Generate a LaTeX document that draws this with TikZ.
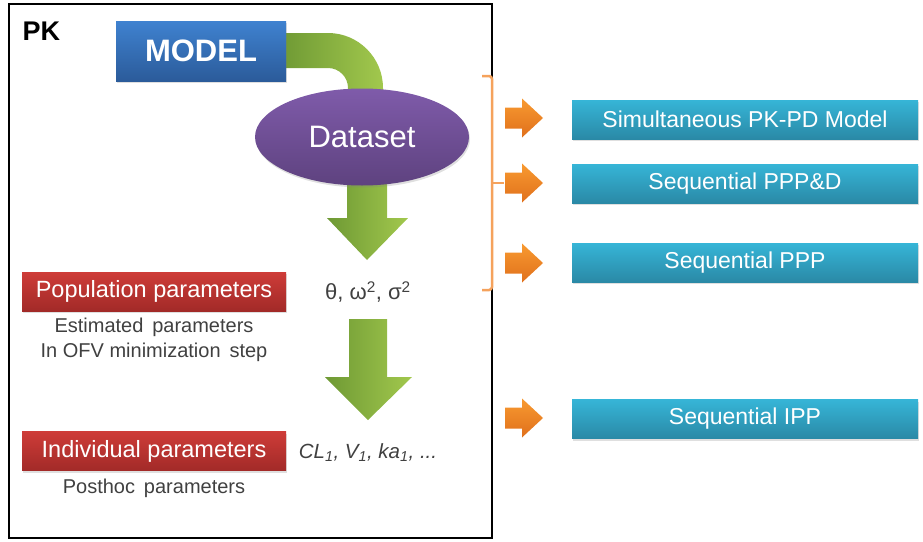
\documentclass[tikz,border=0pt]{standalone}
\usepackage{fontspec}
\setmainfont{Liberation Sans}
\usetikzlibrary{shapes.geometric,shadows}

\definecolor{modeltop}{HTML}{3F82D0}
\definecolor{modelbot}{HTML}{2B5B9A}
\definecolor{datatop}{HTML}{7F5BAA}
\definecolor{databot}{HTML}{5E427F}
\definecolor{partop}{HTML}{CE3C38}
\definecolor{parbot}{HTML}{A22A28}
\definecolor{apptop}{HTML}{36B5D7}
\definecolor{appbot}{HTML}{2A89A6}
\definecolor{greenl}{HTML}{6E9934}
\definecolor{greenr}{HTML}{A2C84D}
\definecolor{orangetop}{HTML}{F89A30}
\definecolor{orangebot}{HTML}{E0701C}
\definecolor{bracketc}{HTML}{F5A25C}
\definecolor{notegray}{HTML}{404040}

\tikzstyle{box}=[rectangle, inner sep=0pt, text=white, drop shadow={shadow xshift=1pt, shadow yshift=-2pt, opacity=0.25}]
\tikzstyle{modelbox}=[box, minimum width=170pt, minimum height=60pt, top color=modeltop, bottom color=modelbot, font=\fontsize{31}{36}\selectfont\bfseries]
\tikzstyle{databox}=[ellipse, inner sep=0pt, minimum width=214pt, minimum height=97pt, top color=datatop, bottom color=databot, text=white, font=\fontsize{31}{36}\selectfont, drop shadow={shadow xshift=1pt, shadow yshift=-2pt, opacity=0.25}]
\tikzstyle{parbox}=[box, minimum width=264pt, minimum height=39pt, top color=partop, bottom color=parbot, font=\fontsize{23.5}{27}\selectfont]
\tikzstyle{approach}=[box, minimum width=346pt, minimum height=39pt, top color=apptop, bottom color=appbot, font=\fontsize{23}{27}\selectfont]
\tikzstyle{note}=[text=notegray, font=\fontsize{20}{25}\selectfont, align=center]
\tikzstyle{values}=[text=notegray, font=\fontsize{22}{25}\selectfont]
\tikzstyle{greenarrow}=[left color=greenl, right color=greenr]
\tikzstyle{orangearrow}=[top color=orangetop, bottom color=orangebot]
\tikzstyle{bracket}=[draw=bracketc, line width=2.5pt, rounded corners=3pt]

\begin{document}
\begin{tikzpicture}[x=1pt, y=1pt]
            \useasboundingbox (0,0) rectangle (923,-541);
            \draw[line width=2.5pt] (9,-4) rectangle (492,-538);
            \node[anchor=west, font=\fontsize{27}{30}\selectfont\bfseries] at (19,-31) (pk) {PK};
            % curved arrow from the model into the dataset
            \shade[greenarrow] (280,-33) -- (328,-33) arc[start angle=90, end angle=0, radius=55]
                -- (383,-110) -- (348,-110) -- (348,-88) arc[start angle=0, end angle=90, radius=20]
                -- (280,-68) -- cycle;
            \node[modelbox] at (201,-51) (model) {MODEL};
            \shade[greenarrow] (347,-170) -- (387,-170) -- (387,-218) -- (408,-218) -- (367,-260)
                -- (327,-218) -- (347,-218) -- cycle;
            \node[databox] at (362,-137) (data) {Dataset};
            \node[parbox] at (154,-291.5) (pop) {Population parameters};
            \node[values] at (368,-292) (popval) {θ, ω\textsuperscript{2}, σ\textsuperscript{2}};
            \node[note] at (154,-340) (popnote) {Estimated\, parameters\\In OFV minimization\, step};
            \shade[greenarrow] (349,-319) -- (387,-319) -- (387,-377) -- (412,-377) -- (368,-420)
                -- (325,-377) -- (349,-377) -- cycle;
            \node[parbox] at (154,-451) (ind) {Individual parameters};
            \node[values, font=\fontsize{20.5}{25}\selectfont] at (368,-453) (indval) {\itshape CL\textsubscript{1}, V\textsubscript{1}, ka\textsubscript{1}, ...};
            \node[note] at (154,-488) (indnote) {Posthoc\, parameters};
            % bracket and the four approaches
            \draw[bracket] (482,-76) -- (492,-76) -- (492,-290) -- (482,-290);
            \draw[bracket] (492,-183) -- (504,-183);
            \shade[orangearrow, shift={(0,-118)}] (505,10.5) -- (522,10.5) -- (522,19.5) -- (543,0) -- (522,-19.5) -- (522,-10.5) -- (505,-10.5) -- cycle;
            \shade[orangearrow, shift={(0,-183)}] (505,10.5) -- (522,10.5) -- (522,19.5) -- (543,0) -- (522,-19.5) -- (522,-10.5) -- (505,-10.5) -- cycle;
            \shade[orangearrow, shift={(0,-263)}] (505,10.5) -- (522,10.5) -- (522,19.5) -- (543,0) -- (522,-19.5) -- (522,-10.5) -- (505,-10.5) -- cycle;
            \shade[orangearrow, shift={(0,-418)}] (505,10.5) -- (522,10.5) -- (522,19.5) -- (543,0) -- (522,-19.5) -- (522,-10.5) -- (505,-10.5) -- cycle;
            \node[approach] at (745,-119.5) (sim) {Simultaneous PK-PD Model};
            \node[approach] at (745,-183.5) (pppd) {Sequential PPP\&D};
            \node[approach] at (745,-262.5) (ppp) {Sequential PPP};
            \node[approach] at (745,-419) (ipp) {Sequential IPP};
        \end{tikzpicture}
\end{document}
